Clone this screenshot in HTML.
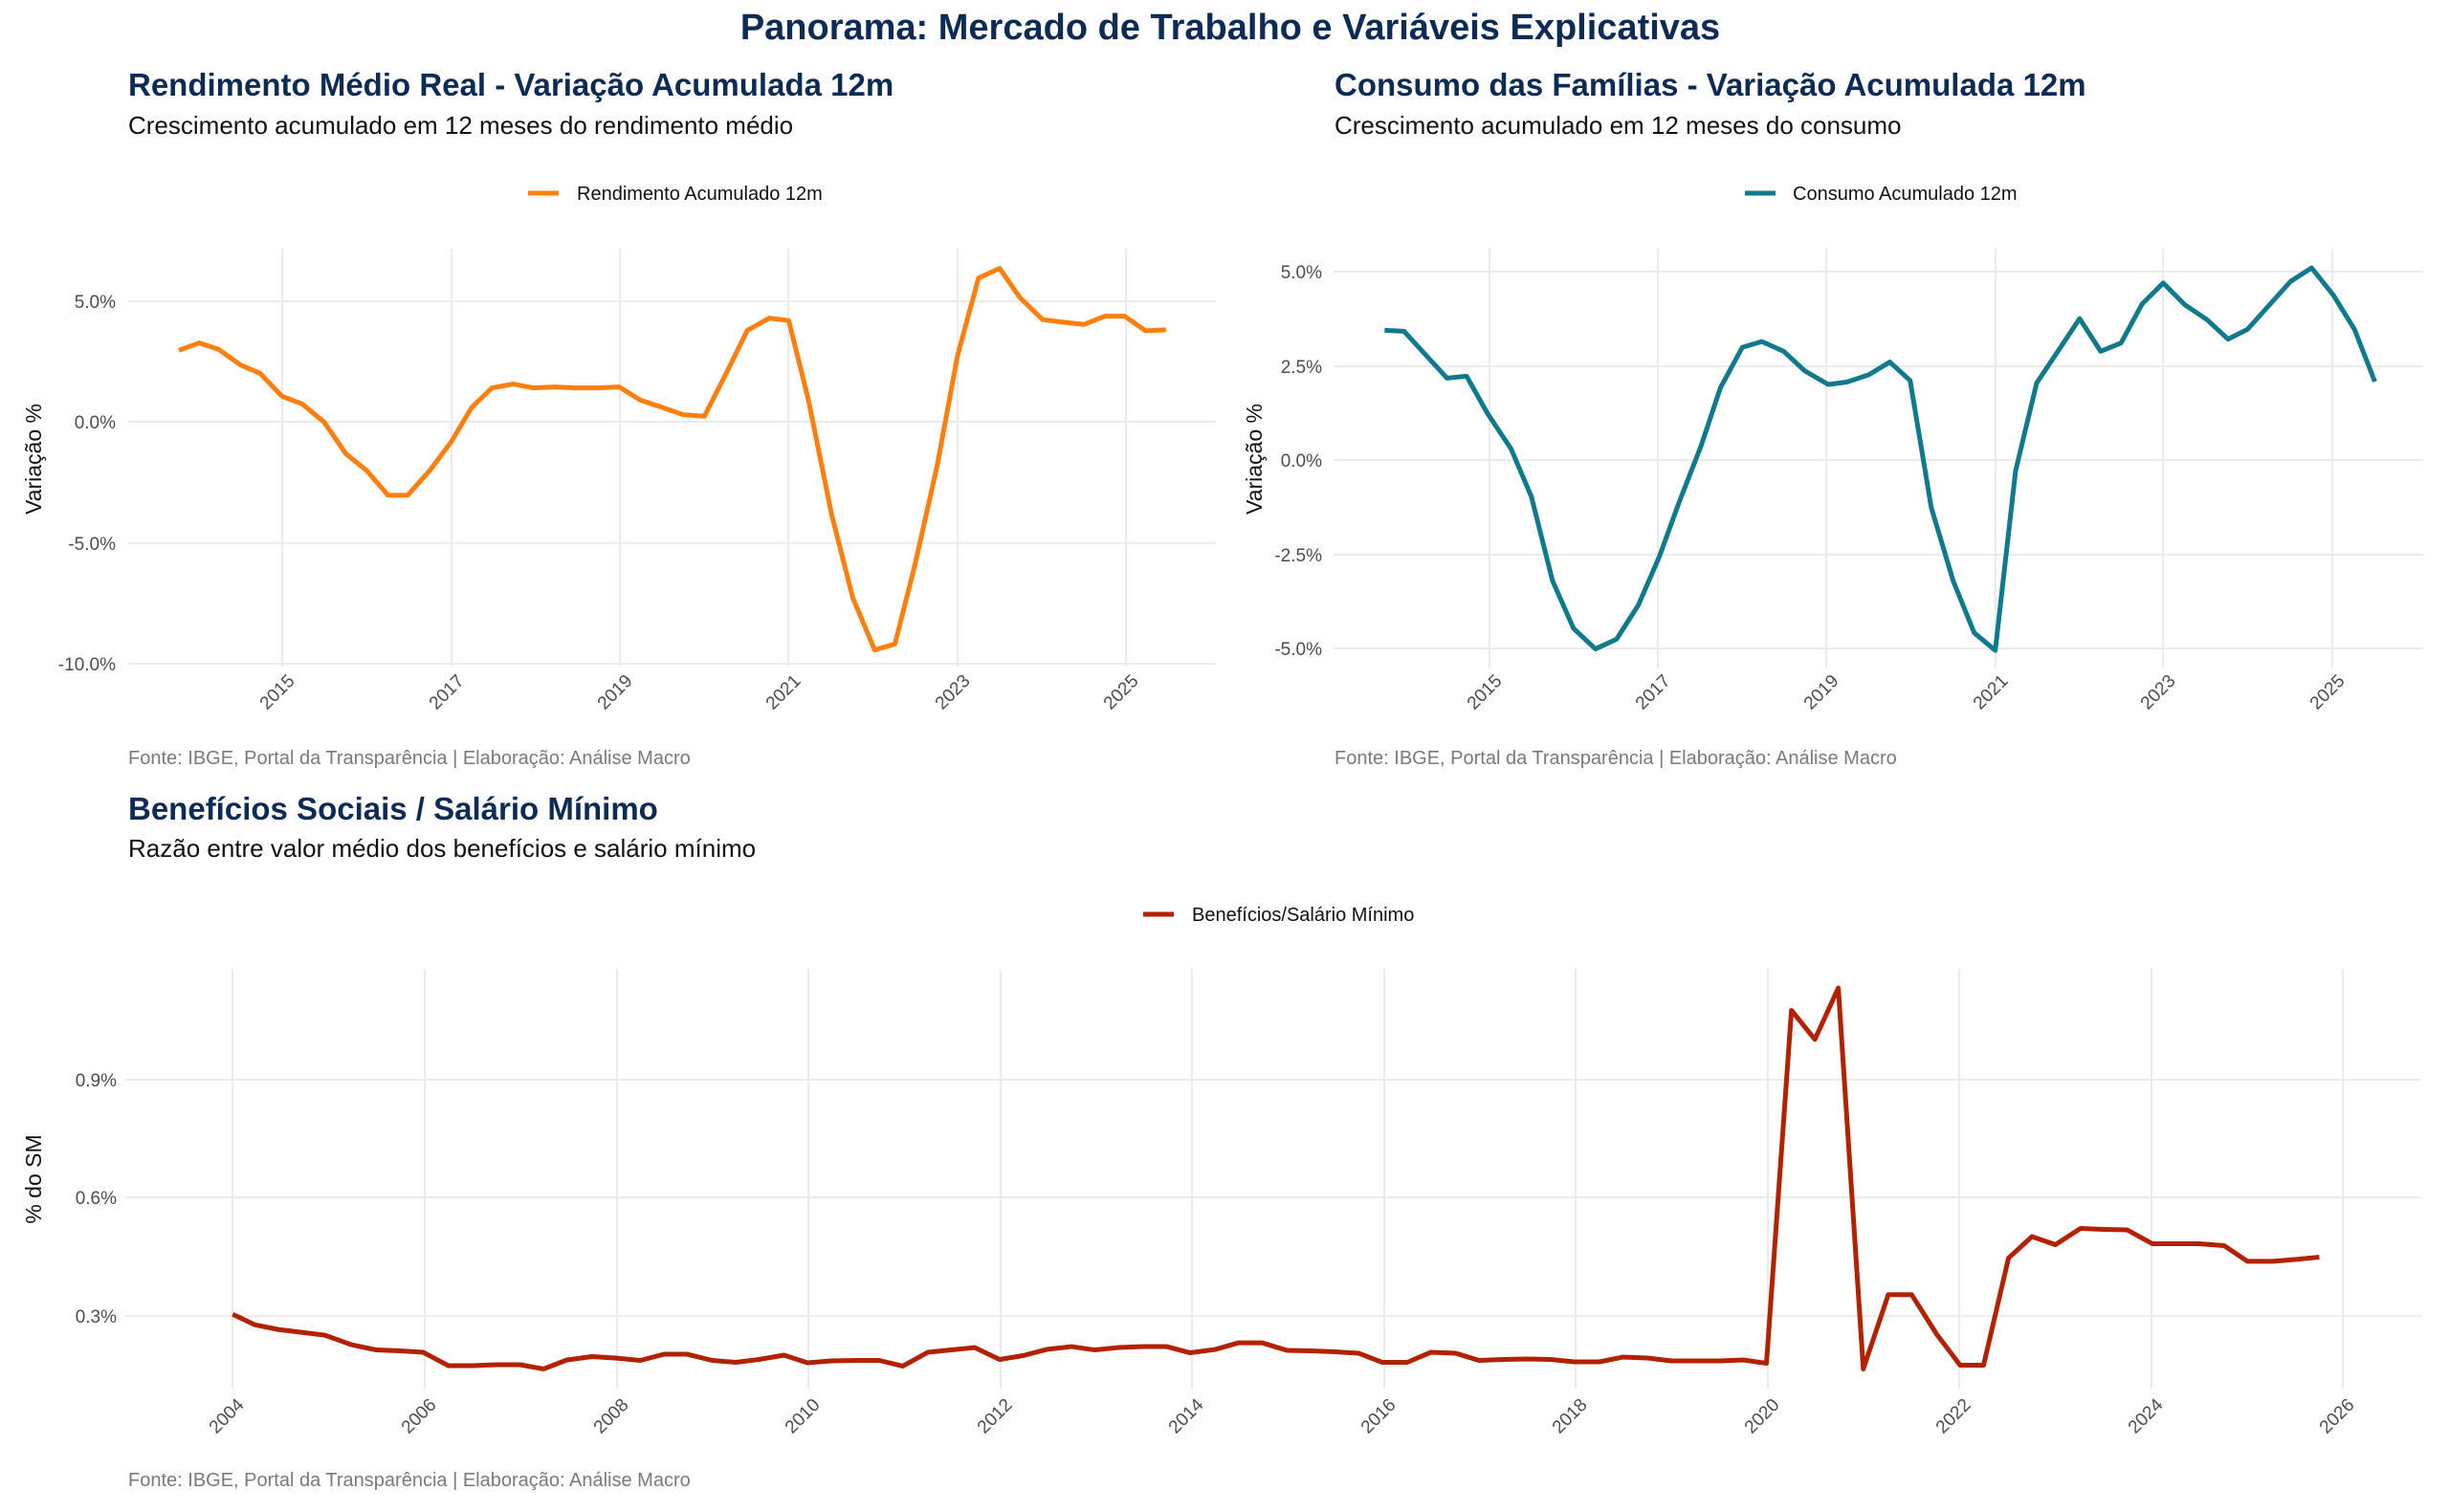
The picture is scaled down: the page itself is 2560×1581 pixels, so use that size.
<!DOCTYPE html>
<html><head><meta charset="utf-8"><style>
html,body{margin:0;padding:0;background:#fff;}
svg{display:block;}
text{font-family:"Liberation Sans",Arial,sans-serif;}
</style></head><body>
<svg width="2560" height="1581" viewBox="0 0 2560 1581" xmlns="http://www.w3.org/2000/svg">
<rect width="2560" height="1581" fill="#fff"/>
<text x="1286" y="41" text-anchor="middle" font-size="38" font-weight="bold" fill="#0d2b55">Panorama: Mercado de Trabalho e Variáveis Explicativas</text>

<!-- Panel 1 -->
<text x="134" y="100" font-size="33" font-weight="bold" fill="#0d2b55">Rendimento Médio Real - Variação Acumulada 12m</text>
<text x="134" y="140" font-size="26" fill="#111">Crescimento acumulado em 12 meses do rendimento médio</text>
<line x1="552" y1="202" x2="584" y2="202" stroke="#ff7f0e" stroke-width="5"/>
<text x="603" y="209" font-size="20" fill="#111">Rendimento Acumulado 12m</text>
<g stroke="#ebebeb" stroke-width="2">
<line x1="134" y1="315" x2="1271" y2="315"/><line x1="134" y1="441" x2="1271" y2="441"/><line x1="134" y1="568" x2="1271" y2="568"/><line x1="134" y1="694" x2="1271" y2="694"/>
<line x1="295" y1="260" x2="295" y2="697"/><line x1="472" y1="260" x2="472" y2="697"/><line x1="648" y1="260" x2="648" y2="697"/><line x1="824" y1="260" x2="824" y2="697"/><line x1="1001" y1="260" x2="1001" y2="697"/><line x1="1177" y1="260" x2="1177" y2="697"/>
</g>
<g font-size="19" fill="#4d4d4d" text-anchor="end">
<text x="121" y="322">5.0%</text><text x="121" y="448">0.0%</text><text x="121" y="575">-5.0%</text><text x="121" y="701">-10.0%</text>
</g>
<g font-size="19" fill="#4d4d4d" text-anchor="end">
<text transform="translate(309,713) rotate(-45)">2015</text><text transform="translate(486,713) rotate(-45)">2017</text><text transform="translate(662,713) rotate(-45)">2019</text><text transform="translate(838,713) rotate(-45)">2021</text><text transform="translate(1015,713) rotate(-45)">2023</text><text transform="translate(1191,713) rotate(-45)">2025</text>
</g>
<text transform="translate(43,480) rotate(-90)" text-anchor="middle" font-size="23" fill="#111">Variação %</text>
<text x="134" y="799" font-size="20" fill="#7a7a7a">Fonte: IBGE, Portal da Transparência | Elaboração: Análise Macro</text>
<g transform="scale(0.81633,0.5102)">
<polyline fill="none" stroke="#ff7f0e" stroke-width="5" stroke-linejoin="round" vector-effect="non-scaling-stroke" points="229,718 255,703 280,716 308,748 333,765 361,812 387,828 415,865 443,930 470,965 497,1015 522,1015 550,965 578,905 604,835 630,795 657,787 683,795 710,793 738,795 765,795 793,793 820,820 848,835 875,850 902,853 930,765 957,677 985,652 1010,657 1035,818 1065,1055 1092,1225 1120,1332 1146,1320 1172,1155 1200,955 1226,730 1253,570 1280,550 1306,610 1335,655 1360,660 1388,665 1415,648 1440,648 1467,678 1493,676"/>
</g>

<!-- Panel 2 -->
<text x="1395" y="100" font-size="33" font-weight="bold" fill="#0d2b55">Consumo das Famílias - Variação Acumulada 12m</text>
<text x="1395" y="140" font-size="26" fill="#111">Crescimento acumulado em 12 meses do consumo</text>
<line x1="1824" y1="202" x2="1856" y2="202" stroke="#0e7a8c" stroke-width="5"/>
<text x="1874" y="209" font-size="20" fill="#111">Consumo Acumulado 12m</text>
<g stroke="#ebebeb" stroke-width="2">
<line x1="1394" y1="284" x2="2533" y2="284"/><line x1="1394" y1="383" x2="2533" y2="383"/><line x1="1394" y1="481" x2="2533" y2="481"/><line x1="1394" y1="580" x2="2533" y2="580"/><line x1="1394" y1="678" x2="2533" y2="678"/>
<line x1="1557" y1="260" x2="1557" y2="699"/><line x1="1733" y1="260" x2="1733" y2="699"/><line x1="1909" y1="260" x2="1909" y2="699"/><line x1="2086" y1="260" x2="2086" y2="699"/><line x1="2261" y1="260" x2="2261" y2="699"/><line x1="2438" y1="260" x2="2438" y2="699"/>
</g>
<g font-size="19" fill="#4d4d4d" text-anchor="end">
<text x="1382" y="291">5.0%</text><text x="1382" y="390">2.5%</text><text x="1382" y="488">0.0%</text><text x="1382" y="587">-2.5%</text><text x="1382" y="685">-5.0%</text>
</g>
<g font-size="19" fill="#4d4d4d" text-anchor="end">
<text transform="translate(1571,713) rotate(-45)">2015</text><text transform="translate(1747,713) rotate(-45)">2017</text><text transform="translate(1923,713) rotate(-45)">2019</text><text transform="translate(2100,713) rotate(-45)">2021</text><text transform="translate(2275,713) rotate(-45)">2023</text><text transform="translate(2452,713) rotate(-45)">2025</text>
</g>
<text transform="translate(1319,480) rotate(-90)" text-anchor="middle" font-size="23" fill="#111">Variação %</text>
<text x="1395" y="799" font-size="20" fill="#7a7a7a">Fonte: IBGE, Portal da Transparência | Elaboração: Análise Macro</text>
<g transform="translate(1280,0) scale(0.81633,0.5102)">
<polyline fill="none" stroke="#0e7a8c" stroke-width="5" stroke-linejoin="round" vector-effect="non-scaling-stroke" points="205,677 230,679 258,728 285,775 310,771 337,848 367,920 393,1018 420,1190 447,1288 475,1330 502,1310 530,1240 557,1140 582,1030 610,915 635,795 663,712 688,700 716,720 743,760 773,788 797,783 825,768 852,742 878,780 905,1040 933,1190 960,1297 987,1333 1013,965 1040,785 1068,718 1095,653 1122,720 1148,703 1175,623 1202,580 1230,625 1258,655 1285,695 1310,675 1338,625 1365,577 1392,549 1420,605 1447,675 1473,782"/>
</g>

<!-- Panel 3 -->
<text x="134" y="857" font-size="33" font-weight="bold" fill="#0d2b55">Benefícios Sociais / Salário Mínimo</text>
<text x="134" y="896" font-size="26" fill="#111">Razão entre valor médio dos benefícios e salário mínimo</text>
<line x1="1195" y1="956" x2="1227" y2="956" stroke="#b22200" stroke-width="5"/>
<text x="1246" y="963" font-size="20" fill="#111">Benefícios/Salário Mínimo</text>
<g stroke="#ebebeb" stroke-width="2">
<line x1="131" y1="1129" x2="2531" y2="1129"/><line x1="131" y1="1252" x2="2531" y2="1252"/><line x1="131" y1="1376" x2="2531" y2="1376"/>
<line x1="243" y1="1013" x2="243" y2="1452"/><line x1="444" y1="1013" x2="444" y2="1452"/><line x1="645" y1="1013" x2="645" y2="1452"/><line x1="845" y1="1013" x2="845" y2="1452"/><line x1="1046" y1="1013" x2="1046" y2="1452"/><line x1="1246" y1="1013" x2="1246" y2="1452"/><line x1="1447" y1="1013" x2="1447" y2="1452"/><line x1="1647" y1="1013" x2="1647" y2="1452"/><line x1="1848" y1="1013" x2="1848" y2="1452"/><line x1="2048" y1="1013" x2="2048" y2="1452"/><line x1="2249" y1="1013" x2="2249" y2="1452"/><line x1="2449" y1="1013" x2="2449" y2="1452"/>
</g>
<g font-size="19" fill="#4d4d4d" text-anchor="end">
<text x="122" y="1136">0.9%</text><text x="122" y="1259">0.6%</text><text x="122" y="1383">0.3%</text>
</g>
<g font-size="19" fill="#4d4d4d" text-anchor="end">
<text transform="translate(256,1470) rotate(-45)">2004</text><text transform="translate(457,1470) rotate(-45)">2006</text><text transform="translate(658,1470) rotate(-45)">2008</text><text transform="translate(858,1470) rotate(-45)">2010</text><text transform="translate(1059,1470) rotate(-45)">2012</text><text transform="translate(1259,1470) rotate(-45)">2014</text><text transform="translate(1460,1470) rotate(-45)">2016</text><text transform="translate(1660,1470) rotate(-45)">2018</text><text transform="translate(1861,1470) rotate(-45)">2020</text><text transform="translate(2061,1470) rotate(-45)">2022</text><text transform="translate(2262,1470) rotate(-45)">2024</text><text transform="translate(2462,1470) rotate(-45)">2026</text>
</g>
<text transform="translate(43,1233) rotate(-90)" text-anchor="middle" font-size="23" fill="#111">% do SM</text>
<text x="134" y="1554" font-size="20" fill="#7a7a7a">Fonte: IBGE, Portal da Transparência | Elaboração: Análise Macro</text>
<g transform="translate(0,800) scale(1.63265,0.498)">
<polyline fill="none" stroke="#b22200" stroke-width="5" stroke-linejoin="round" vector-effect="non-scaling-stroke" points="149,1153 163,1175 178,1185 193,1191 208,1197 225,1217 241,1228 256,1230 271,1233 287,1261 302,1261 318,1259 333,1259 348,1268 363,1249 379,1242 394,1245 410,1250 425,1237 440,1237 456,1250 471,1254 486,1248 502,1239 517,1255 532,1251 548,1250 563,1250 578,1262 594,1233 609,1228 624,1223 640,1248 655,1240 670,1227 686,1221 701,1228 716,1223 732,1221 747,1221 762,1234 778,1227 793,1213 808,1213 824,1229 839,1230 855,1232 870,1235 885,1254 901,1254 916,1233 932,1235 947,1250 962,1248 978,1247 993,1248 1008,1253 1024,1253 1039,1243 1055,1245 1070,1251 1085,1251 1101,1251 1116,1249 1131,1256 1147,515 1162,576 1177,468 1193,1268 1209,1112 1224,1112 1240,1195 1255,1260 1270,1260 1286,1035 1301,990 1316,1007 1332,973 1347,975 1362,976 1378,1005 1393,1005 1408,1005 1424,1009 1439,1042 1455,1042 1470,1038 1485,1033"/>
</g>
</svg>
</body></html>
